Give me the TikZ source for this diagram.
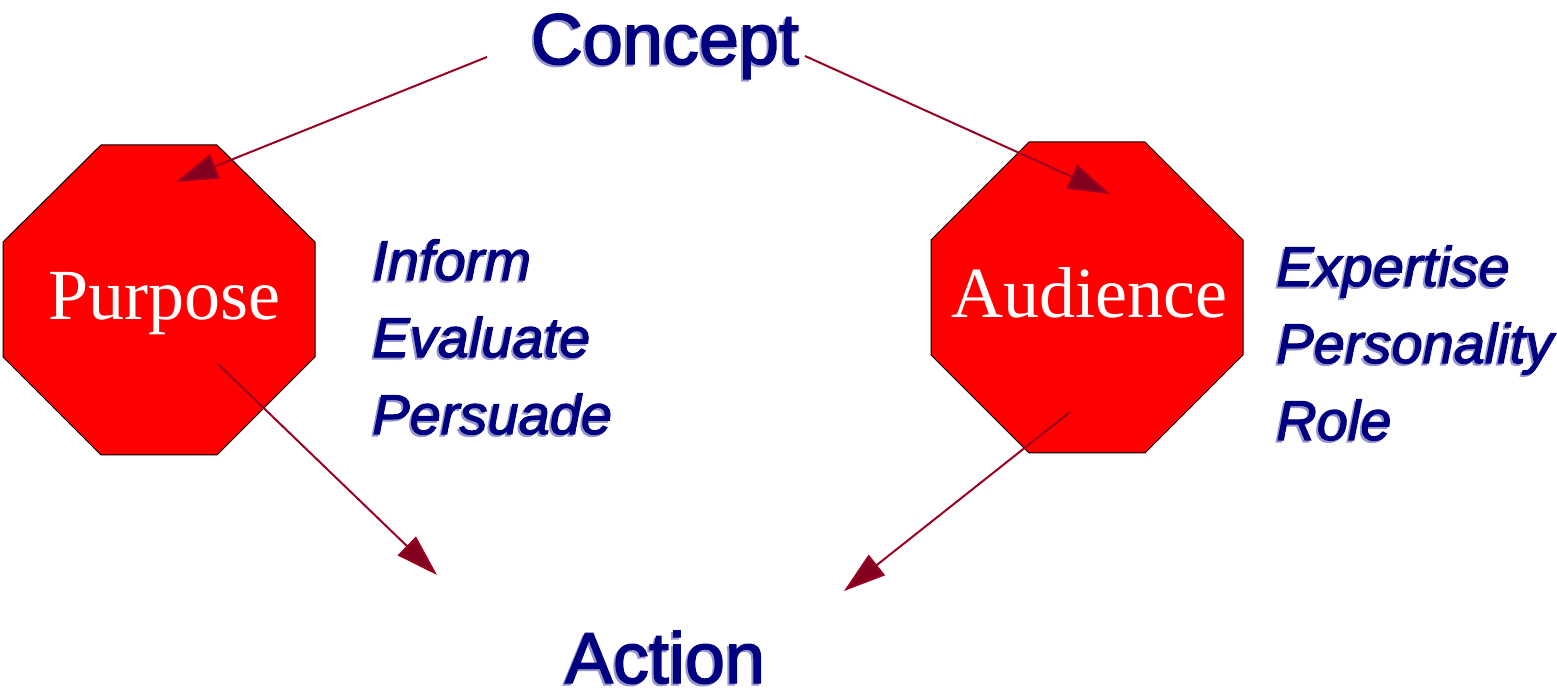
\documentclass[tikz,border=0pt]{standalone}
\usepackage{fontspec}
\setmainfont{Liberation Sans}
\newfontfamily\heavyfont{Liberation Sans}[FakeBold=2]
\newfontfamily\romanfont{Liberation Serif}
\usetikzlibrary{arrows.meta}

\definecolor{navytext}{RGB}{0,0,128}
\definecolor{navyshade}{RGB}{150,150,205}
\definecolor{stopred}{RGB}{255,0,0}
\definecolor{linkred}{RGB}{153,0,34}

% text with a light offset shade behind it
\newcommand\shaded[1]{\rlap{\kern-1pt\raisebox{-1pt}{\color{navyshade}#1}}#1}

\begin{document}
\begin{tikzpicture}
  [
    x=0.5pt, y=-0.5pt,
    title/.style =
      {inner sep=0, anchor=base, text=navytext, font=\heavyfont\fontsize{36}{43}\selectfont},
    items/.style =
      {inner sep=0, anchor=base west, align=left, text=navytext,
       font=\heavyfont\fontsize{28}{38.5}\selectfont\itshape},
    stop/.style =
      {fill=stopred, draw=black, line width=0.5pt},
    sign/.style =
      {inner sep=0, anchor=base, text=white, font=\romanfont\fontsize{36}{43}\selectfont},
    link/.style =
      {draw=linkred, line width=1pt,
       -{Triangle[length=21pt, width=13pt, fill=linkred!85!black]}}
  ]
  \useasboundingbox (0,0) rectangle (1557,694);

  % the two stop signs
  \draw [stop] (101,145) -- (217,145) -- (315,242) -- (315,357)
               -- (217,455) -- (101,455) -- (3,357) -- (3,242) -- cycle;
  \draw [stop] (1029,142) -- (1145,142) -- (1243,240) -- (1243,355)
               -- (1145,453) -- (1029,453) -- (931,355) -- (931,240) -- cycle;

  \node [title] at (665,64)  (concept)  {\shaded{Concept}};
  \node [title] at (665,683) (action)   {\shaded{Action}};
  \node [sign]  at (164,320) (purpose)  {Purpose};
  \node [sign]  at (1089,318) (audience) {Audience};
  \node [items] at (372,434)  (goals)
    {\shaded{Inform}\\ \shaded{Evaluate}\\ \shaded{Persuade}};
  \node [items] at (1276,440) (readers)
    {\shaded{Expertise}\\ \shaded{Personality}\\ \shaded{Role}};

  \coordinate (cl) at (487,57);
  \coordinate (cr) at (805,56);
  \coordinate (pt) at (176,182);
  \coordinate (at) at (1110,194);
  \coordinate (pb) at (218,364);
  \coordinate (ab) at (1070,412);
  \coordinate (al) at (437,575);
  \coordinate (ar) at (844,591);

  \draw [link] (cl) -- (pt);
  \draw [link] (cr) -- (at);
  \draw [link] (pb) -- (al);
  \draw [link] (ab) -- (ar);
\end{tikzpicture}
\end{document}
